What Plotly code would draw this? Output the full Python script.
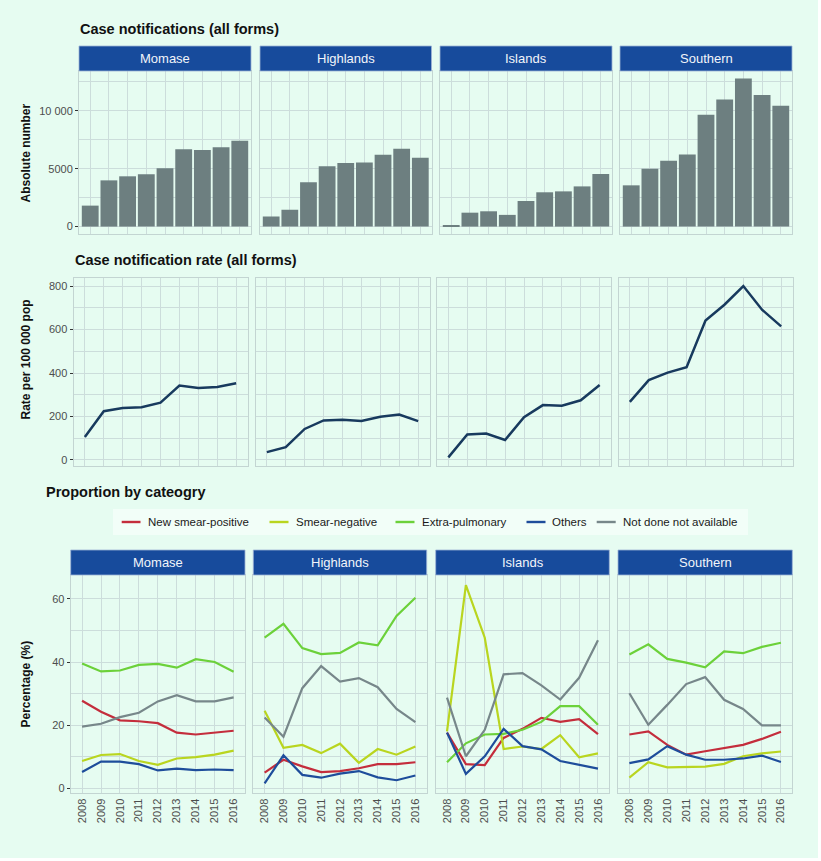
import plotly.graph_objects as go

FONT = "Liberation Sans, Arial, sans-serif"

years = [2008, 2009, 2010, 2011, 2012, 2013, 2014, 2015, 2016]
regions = ["Momase", "Highlands", "Islands", "Southern"]

# Case notifications (absolute numbers)
notif_momase = [1810, 3990, 4340, 4510, 5030, 6670, 6610, 6840, 7410]
notif_highlands = [860, 1460, 3820, 5200, 5490, 5540, 6210, 6720, 5950]
notif_islands = [60, 1200, 1320, 1010, 2210, 2960, 3040, 3470, 4540]
notif_southern = [3560, 5000, 5690, 6230, 9650, 10970, 12790, 11350, 10430]

# Case notification rate per 100 000 pop
rate_momase = [105, 224, 238, 242, 263, 342, 331, 335, 353]
rate_highlands = [35, 58, 142, 181, 184, 179, 198, 208, 178]
rate_islands = [11, 116, 121, 91, 196, 252, 249, 274, 345]
rate_southern = [267, 367, 402, 427, 642, 715, 801, 691, 615]

# Proportion by category (%)
categories = ["New smear-positive", "Smear-negative", "Extra-pulmonary", "Others", "Not done not available"]
cat_colors = ["#C42D3C", "#B9D51F", "#6CD13A", "#1E4D9B", "#77878A"]

prop_momase = {
    "New smear-positive": [27.7, 24.2, 21.5, 21.2, 20.6, 17.6, 17.0, 17.5, 18.2],
    "Smear-negative": [8.6, 10.5, 10.8, 8.6, 7.4, 9.4, 9.8, 10.6, 11.9],
    "Extra-pulmonary": [39.5, 37.0, 37.3, 39.1, 39.4, 38.2, 40.9, 40.0, 36.9],
    "Others": [5.1, 8.4, 8.4, 7.6, 5.6, 6.2, 5.7, 5.9, 5.7],
    "Not done not available": [19.5, 20.4, 22.5, 23.9, 27.5, 29.5, 27.5, 27.5, 28.8],
}
prop_highlands = {
    "New smear-positive": [4.9, 9.0, 6.9, 5.1, 5.4, 6.3, 7.6, 7.6, 8.2],
    "Smear-negative": [24.5, 12.8, 13.7, 11.1, 14.1, 8.0, 12.4, 10.6, 13.2],
    "Extra-pulmonary": [47.7, 52.1, 44.4, 42.5, 42.9, 46.2, 45.3, 54.6, 60.4],
    "Others": [1.5, 10.4, 4.2, 3.3, 4.6, 5.4, 3.4, 2.5, 4.0],
    "Not done not available": [22.4, 16.3, 31.7, 38.7, 33.8, 34.9, 32.0, 25.1, 20.9],
}
prop_islands = {
    "New smear-positive": [17.6, 7.6, 7.3, 15.9, 18.8, 22.3, 21.0, 21.9, 17.1],
    "Smear-negative": [18.0, 64.4, 47.7, 12.4, 13.2, 12.4, 16.8, 9.8, 11.0],
    "Extra-pulmonary": [8.2, 14.2, 17.0, 17.2, 18.5, 21.0, 26.0, 26.0, 20.1],
    "Others": [17.6, 4.5, 10.1, 18.8, 13.3, 12.3, 8.6, 7.5, 6.2],
    "Not done not available": [28.7, 10.1, 18.5, 36.1, 36.5, 32.6, 28.1, 35.0, 46.9],
}
prop_southern = {
    "New smear-positive": [17.0, 18.0, 13.7, 10.6, 11.7, 12.7, 13.7, 15.6, 17.9],
    "Smear-negative": [3.3, 8.2, 6.6, 6.6, 6.8, 7.7, 10.1, 11.0, 11.6],
    "Extra-pulmonary": [42.4, 45.6, 41.0, 39.8, 38.3, 43.4, 42.8, 44.8, 46.1],
    "Others": [7.9, 9.1, 13.3, 10.6, 9.0, 9.0, 9.4, 10.3, 8.3],
    "Not done not available": [30.1, 20.1, 26.4, 33.0, 35.2, 28.0, 25.1, 19.9, 19.9],
}

notif = [notif_momase, notif_highlands, notif_islands, notif_southern]
rates = [rate_momase, rate_highlands, rate_islands, rate_southern]
props = [prop_momase, prop_highlands, prop_islands, prop_southern]

notif_ticks = [0, 5000, 10000]
notif_ticktext = ["0", "5000", "10 000"]
rate_ticks = [0, 200, 400, 600, 800]
prop_ticks = [0, 20, 40, 60]

# ---------- layout geometry (screen pixels of the page) ----------
OX, OY = 0, 0          # body margin removed via post_script
FW, FH = 818, 858      # figure size

BG = "#E6FCF1"
GRID = "#CCDDDB"
BORDER = "#C3D5D2"
STRIP = "#174B9C"
BAR = "#6D7F80"
NAVY = "#183A5E"
TICKC = "#4D4D4D"

rows = [
    dict(x=[(79, 251), (260, 431.5), (440, 612), (620, 792)], y=(71, 234), strip=(46, 71)),
    dict(x=[(73.5, 247.5), (255.5, 429.5), (437, 611), (618.5, 792.5)], y=(277.5, 466), strip=None),
    dict(x=[(70.7, 245), (253.3, 426.7), (435.7, 609.3), (618, 792.3)], y=(575, 793.3), strip=(550, 575)),
]
yranges = [[-640, 13430], [-29, 840.5], [-1.65, 67.6]]


def px(x):
    return (x - OX) / FW


def py(y):
    return 1 - (y - OY) / FH


fig = go.Figure()
layout = dict(
    width=FW, height=FH,
    paper_bgcolor=BG, plot_bgcolor=BG,
    margin=dict(l=0, r=0, t=0, b=0),
    showlegend=False,
    font=dict(family=FONT, size=11, color=TICKC),
)
shapes = []
annotations = []

for r, row in enumerate(rows):
    for c in range(4):
        idx = r * 4 + c + 1
        xa = "x" if idx == 1 else f"x{idx}"
        ya = "y" if idx == 1 else f"y{idx}"
        xkey = "xaxis" if idx == 1 else f"xaxis{idx}"
        ykey = "yaxis" if idx == 1 else f"yaxis{idx}"
        x0, x1 = row["x"][c]
        y0, y1 = row["y"]
        if r == 0:
            fig.add_trace(go.Bar(x=years, y=notif[c], marker=dict(color=BAR, line=dict(width=0)),
                                 width=0.9, xaxis=xa, yaxis=ya, hoverinfo="x+y"))
            yt, ytt = notif_ticks, notif_ticktext
            ymin = [2500, 7500, 12500]
        elif r == 1:
            fig.add_trace(go.Scatter(x=years, y=rates[c], mode="lines",
                                     line=dict(color=NAVY, width=2.5), xaxis=xa, yaxis=ya))
            yt, ytt = rate_ticks, [str(v) for v in rate_ticks]
            ymin = [100, 300, 500, 700]
        else:
            for cat, col in zip(categories, cat_colors):
                fig.add_trace(go.Scatter(x=years, y=props[c][cat], mode="lines", name=cat,
                                         line=dict(color=col, width=2.2), xaxis=xa, yaxis=ya))
            yt, ytt = prop_ticks, [str(v) for v in prop_ticks]
            ymin = [10, 30, 50]
        layout[xkey] = dict(
            domain=[px(x0), px(x1)], anchor=ya, range=[2007.4, 2016.6],
            tickvals=years, ticktext=[str(v) for v in years],
            showticklabels=(r == 2), tickangle=-90,
            tickfont=dict(size=11, color=TICKC, family=FONT),
            showgrid=True, gridcolor=GRID, gridwidth=1,
            showline=True, mirror=True, linecolor=BORDER, linewidth=1,
            zeroline=False, ticks="", fixedrange=True,
        )
        layout[ykey] = dict(
            domain=[py(y1), py(y0)], anchor=xa, range=yranges[r],
            tickvals=yt, ticktext=ytt, showticklabels=(c == 0),
            ticks="outside" if c == 0 else "", ticklen=3, tickwidth=1.2, tickcolor="#333333",
            tickfont=dict(size=11, color=TICKC, family=FONT),
            showgrid=True, gridcolor=GRID, gridwidth=1,
            minor=dict(tickvals=ymin, showgrid=True, gridcolor=GRID, gridwidth=0.8, ticks=""),
            showline=True, mirror=True, linecolor=BORDER, linewidth=1,
            zeroline=False, fixedrange=True,
        )
        if row["strip"] is not None:
            s0, s1 = row["strip"]
            shapes.append(dict(type="rect", xref="paper", yref="paper",
                               x0=px(x0), x1=px(x1), y0=py(s1), y1=py(s0),
                               fillcolor=STRIP, line=dict(color="#9DB3D6", width=0.8), layer="above"))
            annotations.append(dict(text=regions[c], xref="paper", yref="paper",
                                    x=px((x0 + x1) / 2), y=py((s0 + s1) / 2),
                                    xanchor="center", yanchor="middle", showarrow=False,
                                    font=dict(family=FONT, size=13, color="#F2F5FA")))

# section titles
for txt, x, y in [("Case notifications (all forms)", 78, 29),
                  ("Case notification rate (all forms)", 73, 260),
                  ("Proportion by cateogry", 44, 492)]:
    annotations.append(dict(text=f"<b>{txt}</b>", xref="paper", yref="paper", x=px(x), y=py(y),
                            xanchor="left", yanchor="middle", showarrow=False,
                            font=dict(family=FONT, size=14.5, color="#111111")))

# y-axis titles
for txt, y in [("Absolute number", 153), ("Rate per 100 000 pop", 360), ("Percentage (%)", 684)]:
    annotations.append(dict(text=f"<b>{txt}</b>", xref="paper", yref="paper", x=px(25.5), y=py(y),
                            xanchor="center", yanchor="middle", showarrow=False, textangle=-90,
                            font=dict(family=FONT, size=12, color="#111111")))

# legend (drawn manually, ggplot-style)
shapes.append(dict(type="rect", xref="paper", yref="paper", x0=px(113), x1=px(748),
                   y0=py(535), y1=py(509), fillcolor="#F2FEF8", line=dict(width=0), layer="below"))
leg_keys = [(121.7, 140.5, 146), (269.5, 288.5, 293.5), (395.5, 414.5, 420.3),
            (526.5, 545.5, 550.3), (596.7, 615.7, 621)]
for (k0, k1, tx), cat, col in zip(leg_keys, categories, cat_colors):
    shapes.append(dict(type="line", xref="paper", yref="paper", x0=px(k0), x1=px(k1),
                       y0=py(522), y1=py(522), line=dict(color=col, width=2.4)))
    annotations.append(dict(text=cat, xref="paper", yref="paper", x=px(tx), y=py(522),
                            xanchor="left", yanchor="middle", showarrow=False,
                            font=dict(family=FONT, size=11.5, color="#1A1A1A")))

layout["shapes"] = shapes
layout["annotations"] = annotations
fig.update_layout(**layout)
fig.write_html("out.html", config={"displayModeBar": False},
               post_script="document.body.style.margin='0';")
